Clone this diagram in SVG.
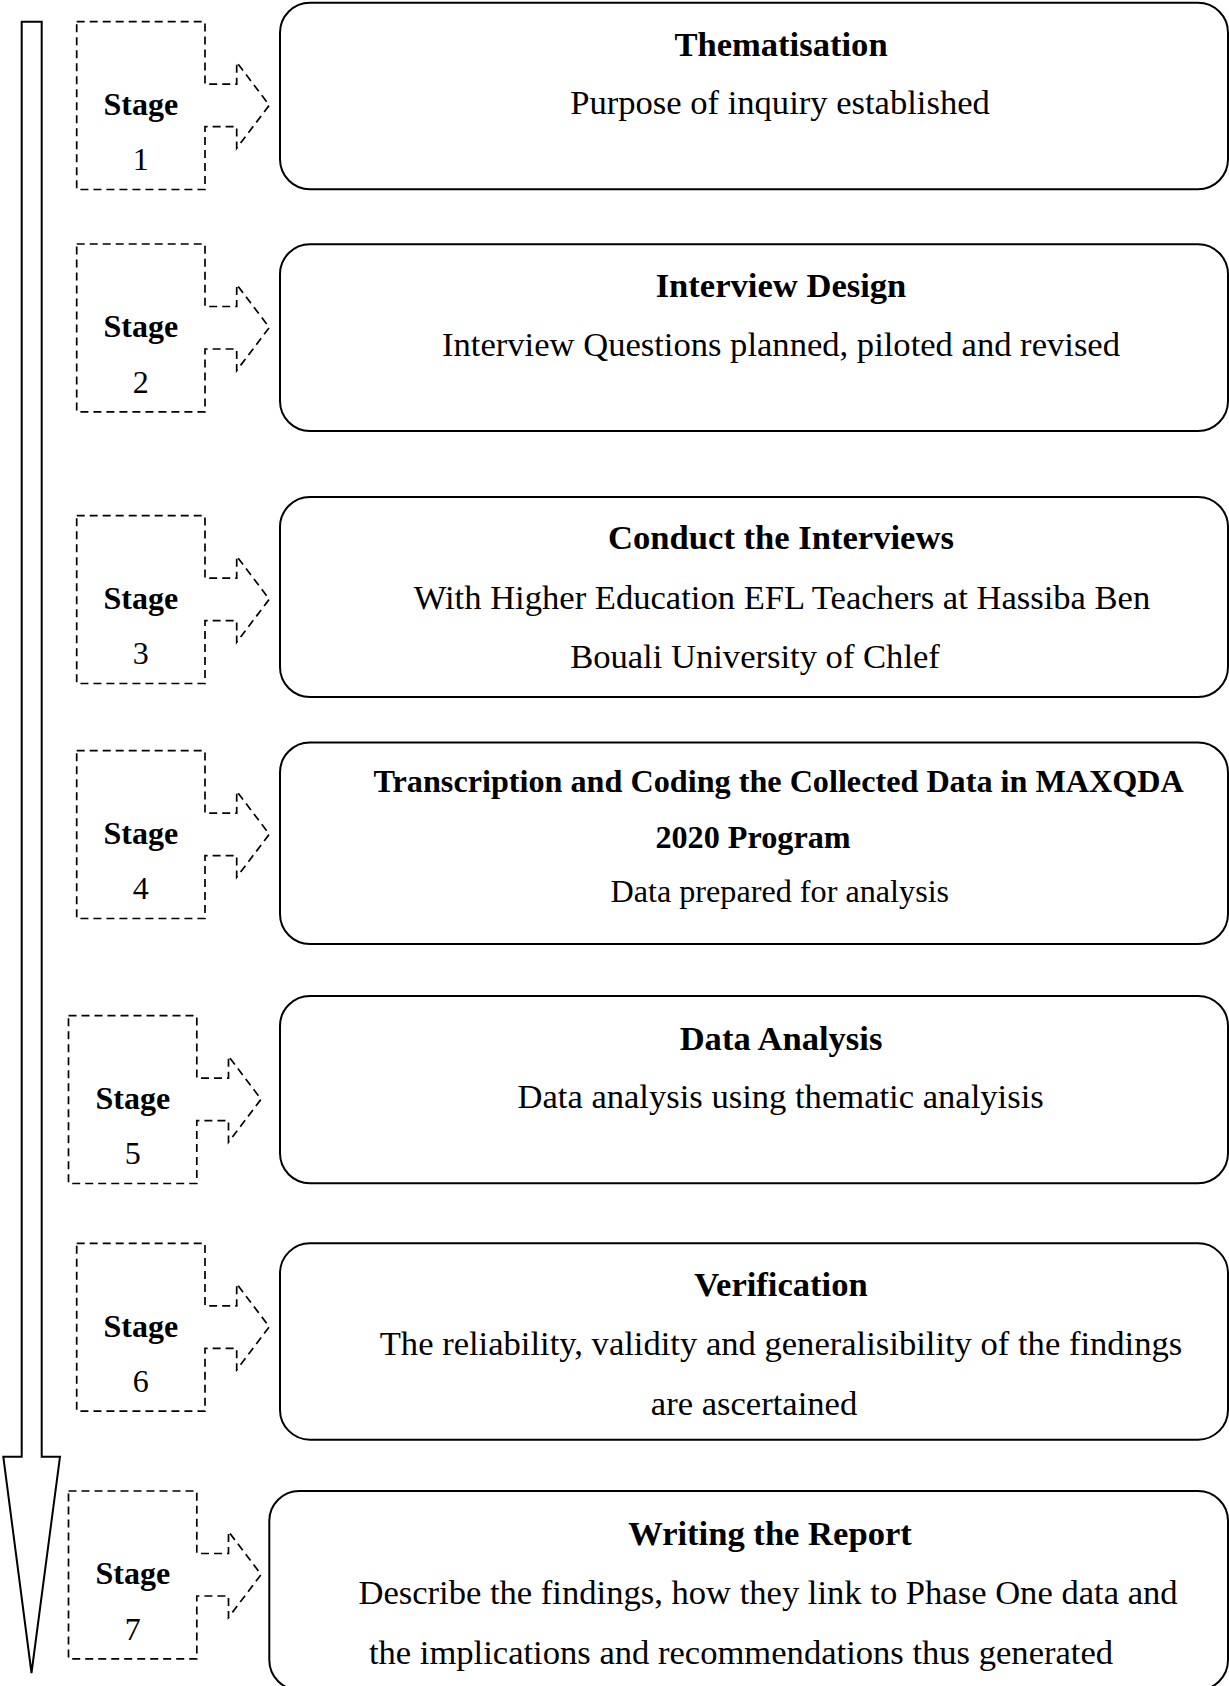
<svg xmlns="http://www.w3.org/2000/svg" xmlns:xlink="http://www.w3.org/1999/xlink" width="1229" height="1686" viewBox="0 0 1229 1686">
  <style>
    .box { fill: #fff; stroke: #000; stroke-width: 2; }
    .stage { fill: #fff; stroke: #000; stroke-width: 1.7; stroke-dasharray: 8 5; }
    .flow { fill: #fff; stroke: #000; stroke-width: 2; }
    text { font-family: "Liberation Serif", "Times New Roman", serif; fill: #000; }
    .t { font-size: 34.6px; font-weight: bold; text-anchor: middle; }
    .b { font-size: 34.6px; text-anchor: middle; }
    .sm { font-size: 32.2px; }
    .sl { font-size: 32px; font-weight: bold; text-anchor: middle; }
    .sn { font-size: 32px; text-anchor: middle; }
  </style>
  <defs>
    <!-- dashed stage tab with its right-pointing block arrow, origin at top-left -->
    <path id="stageShape" d="M0,0 H128.3 V62.5 H160 V40.5 L192.6,83.5 L160,126.5 V105 H128.3 V167.8 H0 Z"/>
  </defs>

  <rect width="1229" height="1686" fill="#fff"/>

  <g id="connectors">
    <!-- long downward flow arrow on the left -->
    <path id="flow-arrow" class="flow" d="M21.7,21.7 H41.7 V1456.7 H60 L31.5,1673 L3.3,1456.7 H21.7 Z"/>
  </g>

  <!-- Stage tabs -->
  <g id="stage1">
    <use xlink:href="#stageShape" class="stage" transform="translate(76.7,21.7)"/>
    <text class="sl" x="140.8" y="115">Stage</text>
    <text class="sn" x="140.8" y="170">1</text>
  </g>
  <g id="stage2">
    <use xlink:href="#stageShape" class="stage" transform="translate(76.7,244)"/>
    <text class="sl" x="140.8" y="337.3">Stage</text>
    <text class="sn" x="140.8" y="392.5">2</text>
  </g>
  <g id="stage3">
    <use xlink:href="#stageShape" class="stage" transform="translate(76.7,515.7)"/>
    <text class="sl" x="140.8" y="609">Stage</text>
    <text class="sn" x="140.8" y="664.2">3</text>
  </g>
  <g id="stage4">
    <use xlink:href="#stageShape" class="stage" transform="translate(76.7,750.7)"/>
    <text class="sl" x="140.8" y="844">Stage</text>
    <text class="sn" x="140.8" y="899.2">4</text>
  </g>
  <g id="stage5">
    <use xlink:href="#stageShape" class="stage" transform="translate(68.5,1015.7)"/>
    <text class="sl" x="132.8" y="1109">Stage</text>
    <text class="sn" x="132.8" y="1164.2">5</text>
  </g>
  <g id="stage6">
    <use xlink:href="#stageShape" class="stage" transform="translate(76.7,1243.3)"/>
    <text class="sl" x="140.8" y="1336.6">Stage</text>
    <text class="sn" x="140.8" y="1391.8">6</text>
  </g>
  <g id="stage7">
    <use xlink:href="#stageShape" class="stage" transform="translate(68.5,1491)"/>
    <text class="sl" x="132.8" y="1584.3">Stage</text>
    <text class="sn" x="132.8" y="1639.5">7</text>
  </g>

  <!-- Process boxes -->
  <g id="thematisation">
    <rect class="box" x="280" y="2.7" width="948" height="186.6" rx="30" ry="30"/>
    <text class="t" x="781" y="55.5">Thematisation</text>
    <text class="b" x="780" y="114">Purpose of inquiry established</text>
  </g>
  <g id="interview-design">
    <rect class="box" x="280" y="244.2" width="948" height="186.8" rx="30" ry="30"/>
    <text class="t" x="781" y="296.7">Interview Design</text>
    <text class="b" x="781" y="356">Interview Questions planned, piloted and revised</text>
  </g>
  <g id="conduct-interviews">
    <rect class="box" x="280" y="497" width="948" height="200" rx="30" ry="30"/>
    <text class="t" x="781" y="549.3">Conduct the Interviews</text>
    <text class="b" x="782" y="609">With Higher Education EFL Teachers at Hassiba Ben</text>
    <text class="b" x="755" y="668.3">Bouali University of Chlef</text>
  </g>
  <g id="transcription-coding">
    <rect class="box" x="280" y="742.5" width="948" height="201.5" rx="30" ry="30"/>
    <text class="t sm" x="778.7" y="791.7">Transcription and Coding the Collected Data in MAXQDA</text>
    <text class="t sm" x="753" y="847.7">2020 Program</text>
    <text class="b sm" x="779.8" y="901.7">Data prepared for analysis</text>
  </g>
  <g id="data-analysis">
    <rect class="box" x="280" y="996" width="948" height="187.3" rx="30" ry="30"/>
    <text class="t" x="781" y="1050">Data Analysis</text>
    <text class="b" x="780.6" y="1108">Data analysis using thematic analyisis</text>
  </g>
  <g id="verification">
    <rect class="box" x="280" y="1243.3" width="948" height="196.4" rx="30" ry="30"/>
    <text class="t" x="781" y="1296">Verification</text>
    <text class="b" x="781" y="1355">The reliability, validity and generalisibility of the findings</text>
    <text class="b" x="754" y="1415">are ascertained</text>
  </g>
  <g id="writing-report">
    <rect class="box" x="269.3" y="1491" width="958.7" height="199" rx="30" ry="30"/>
    <text class="t" x="770" y="1545">Writing the Report</text>
    <text class="b" x="768" y="1604">Describe the findings, how they link to Phase One data and</text>
    <text class="b" x="741" y="1664">the implications and recommendations thus generated</text>
  </g>
</svg>
